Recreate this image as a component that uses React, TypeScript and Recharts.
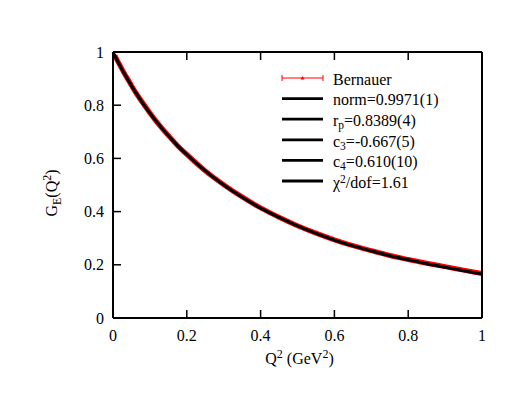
import React from 'react';
import { LineChart, Line, XAxis, YAxis, Legend } from 'recharts';

const q2 = [0, 0.005, 0.01, 0.02, 0.03, 0.04, 0.05, 0.06, 0.08, 0.1, 0.125, 0.15, 0.175, 0.2, 0.25, 0.3, 0.35, 0.4, 0.45, 0.5, 0.55, 0.6, 0.65, 0.7, 0.75, 0.8, 0.85, 0.9, 0.95, 1.0];
const fitValues = [1.0, 0.986, 0.972, 0.946, 0.921, 0.897, 0.873, 0.851, 0.809, 0.77, 0.726, 0.685, 0.648, 0.614, 0.553, 0.5, 0.454, 0.413, 0.378, 0.346, 0.318, 0.293, 0.271, 0.252, 0.234, 0.219, 0.204, 0.191, 0.178, 0.165];
const bernauerValues = [null, 0.987, 0.973, 0.947, 0.921, 0.898, 0.874, 0.851, 0.81, 0.771, 0.726, 0.686, 0.648, 0.615, 0.553, 0.501, 0.455, 0.414, 0.379, 0.347, 0.319, 0.294, 0.272, 0.253, 0.235, 0.22, 0.206, 0.193, 0.18, 0.167];
const xTicks = [0, 0.2, 0.4, 0.6, 0.8, 1];
const yTicks = [0, 0.2, 0.4, 0.6, 0.8, 1];

type Seg = { t: string; sub?: boolean; sup?: boolean };
const bernauerLabel: Seg[] = [{ t: 'Bernauer' }];
const fitLegendLabels: Seg[][] = [
  [{ t: 'norm=0.9971(1)' }],
  [{ t: 'r' }, { t: 'p', sub: true }, { t: '=0.8389(4)' }],
  [{ t: 'c' }, { t: '3', sub: true }, { t: '=-0.667(5)' }],
  [{ t: 'c' }, { t: '4', sub: true }, { t: '=0.610(10)' }],
  [{ t: 'χ' }, { t: '2', sup: true }, { t: '/dof=1.61' }],
];

const data = q2.map((q, i) => ({ q2: q, fit: fitValues[i], bernauer: bernauerValues[i] }));

const FONT = 'Liberation Serif, Times New Roman, DejaVu Serif, serif';
const fontStyle = { fontFamily: FONT };

function renderSegs(segs: Seg[]) {
  const out: React.ReactNode[] = [];
  let shift = 0;
  segs.forEach((s, i) => {
    const target = s.sub ? 3 : s.sup ? -5 : 0;
    const dy = target - shift;
    shift = target;
    out.push(
      <tspan key={i} dy={dy} fontSize={s.sub || s.sup ? 11.5 : 16}>
        {s.t}
      </tspan>
    );
  });
  return out;
}

const LegendBox = () => {
  const rowY = (i: number) => 13 + 20.6 * i;
  return (
    <svg width={200} height={135} style={{ display: 'block', overflow: 'visible' }}>
      <g>
        <line x1={7} x2={48} y1={rowY(0)} y2={rowY(0)} stroke="#ff0000" strokeWidth={1} />
        <line x1={7} x2={7} y1={rowY(0) - 3} y2={rowY(0) + 3} stroke="#ff0000" strokeWidth={1} />
        <line x1={48} x2={48} y1={rowY(0) - 3} y2={rowY(0) + 3} stroke="#ff0000" strokeWidth={1} />
        <polygon points={`${27.5},${rowY(0) - 2} ${25.5},${rowY(0) + 1.5} ${29.5},${rowY(0) + 1.5}`} fill="#ff0000" />
        <text x={58} y={rowY(0) + 6.7} style={fontStyle} fontSize={16} fill="#000">
          {renderSegs(bernauerLabel)}
        </text>
      </g>
      {fitLegendLabels.map((segs, k) => {
        const y = rowY(k + 1);
        return (
          <g key={k}>
            <line x1={7} x2={48} y1={y} y2={y} stroke="#000" strokeWidth={2.8} />
            <text x={58} y={y + 6.7} style={fontStyle} fontSize={16} fill="#000">
              {renderSegs(segs)}
            </text>
          </g>
        );
      })}
    </svg>
  );
};

const YLabel = (props: any) => {
  const vb = props.viewBox || { x: 0, y: 0, width: 0, height: 0 };
  const cx = vb.x + 14;
  const cy = vb.y + vb.height / 2 + 8;
  return (
    <text x={cx} y={cy} transform={`rotate(-90, ${cx}, ${cy})`} textAnchor="middle" style={fontStyle} fontSize={16} fill="#000">
      <tspan>G</tspan>
      <tspan dy={4} fontSize={12}>E</tspan>
      <tspan dy={-4}>(Q</tspan>
      <tspan dy={-6} fontSize={12}>2</tspan>
      <tspan dy={6}>)</tspan>
    </text>
  );
};

const XLabel = (props: any) => {
  const vb = props.viewBox || { x: 0, y: 0, width: 0, height: 0 };
  const cx = vb.x + vb.width / 2 + 2;
  const cy = vb.y + 46;
  return (
    <text x={cx} y={cy} textAnchor="middle" style={fontStyle} fontSize={16} fill="#000">
      <tspan>Q</tspan>
      <tspan dy={-6} fontSize={12}>2</tspan>
      <tspan dy={6}> (GeV</tspan>
      <tspan dy={-6} fontSize={12}>2</tspan>
      <tspan dy={6}>)</tspan>
    </text>
  );
};

const axisLine = { stroke: '#000', strokeWidth: 2 };
const tickLine = { stroke: '#000', strokeWidth: 1.5 };
const tickStyle = { fill: '#000', fontSize: 16, style: fontStyle };

export default function App() {
  return (
    <div style={{ position: 'absolute', left: 0, top: 0, width: 523, height: 404, background: '#fff', fontFamily: FONT }}>
      <LineChart width={523} height={404} data={data} margin={{ top: 51, right: 40, left: 43, bottom: 36 }} style={fontStyle}>
        <XAxis
          dataKey="q2"
          type="number"
          domain={[0, 1]}
          ticks={xTicks}
          axisLine={axisLine}
          tickLine={tickLine}
          tickSize={-8}
          tickMargin={20}
          tick={tickStyle}
          height={50}
          interval={0}
          label={<XLabel />}
        />
        <XAxis
          xAxisId="top"
          orientation="top"
          dataKey="q2"
          type="number"
          domain={[0, 1]}
          ticks={xTicks}
          axisLine={axisLine}
          tickLine={tickLine}
          tickSize={-8}
          tickFormatter={() => ''}
          height={1}
          interval={0}
        />
        <YAxis
          type="number"
          domain={[0, 1]}
          ticks={yTicks}
          axisLine={axisLine}
          tickLine={tickLine}
          tickSize={-8}
          tickMargin={17}
          tick={tickStyle}
          width={70}
          interval={0}
          label={<YLabel />}
        />
        <YAxis
          yAxisId="right"
          orientation="right"
          type="number"
          domain={[0, 1]}
          ticks={yTicks}
          axisLine={axisLine}
          tickLine={tickLine}
          tickSize={-8}
          tickFormatter={() => ''}
          width={1}
          interval={0}
        />
        <Line
          dataKey="bernauer"
          stroke="#ff0000"
          strokeWidth={5}
          dot={false}
          activeDot={false}
          type="monotone"
          isAnimationActive={false}
          connectNulls
        />
        <Line
          dataKey="fit"
          stroke="#000"
          strokeWidth={3}
          dot={false}
          activeDot={false}
          type="monotone"
          isAnimationActive={false}
        />
        <Legend
          layout="horizontal"
          verticalAlign="middle"
          align="center"
          content={() => <LegendBox />}
          wrapperStyle={{ left: 275, top: 65, width: 200, height: 135 }}
        />
      </LineChart>
    </div>
  );
}
